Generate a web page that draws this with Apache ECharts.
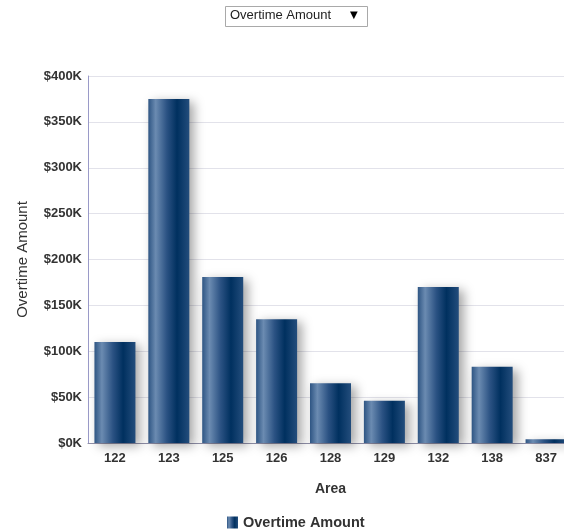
<!DOCTYPE html>
<html>
<head>
<meta charset="utf-8">
<style>
  html, body { margin: 0; padding: 0; background: #ffffff; overflow: hidden; }
  #chart { width: 580px; height: 531px; }
</style>
<script src="https://cdn.jsdelivr.net/npm/echarts@6/dist/echarts.min.js"></script>
</head>
<body>
<div id="chart"></div>
<script>
// Overtime amount per area
var areas = ['122', '123', '125', '126', '128', '129', '132', '138', '837'];
var overtimeAmount = [110000, 375000, 181000, 135000, 65000, 46000, 170000, 83000, 4000];
var yTicks = { min: 0, max: 400000, interval: 50000 };
var seriesName = 'Overtime Amount';

var barFill = new echarts.graphic.LinearGradient(0, 0, 1, 0, [
  { offset: 0, color: '#2e5583' },
  { offset: 0.18, color: '#6b8bb1' },
  { offset: 0.45, color: '#2b5283' },
  { offset: 0.7, color: '#00305f' },
  { offset: 1, color: '#234d7c' }
]);

var fontFamily = 'Arial, "Liberation Sans", sans-serif';

var chart = echarts.init(document.getElementById('chart'));
chart.setOption({
  animation: false,
  textStyle: { fontFamily: fontFamily },
  grid: { left: 88, top: 76, width: 485, height: 367, containLabel: false },
  graphic: [
    {
      type: 'rect', left: 225, top: 6,
      shape: { width: 142, height: 20 },
      style: { fill: '#ffffff', stroke: '#a9a9a9', lineWidth: 1 }
    },
    {
      type: 'text', left: 230, top: 9,
      style: { text: 'Overtime Amount', fill: '#222', font: '13px ' + fontFamily }
    },
    {
      type: 'text', left: 350, top: 10,
      style: { text: '▼', fill: '#000', font: '10px "DejaVu Sans", sans-serif' }
    }
  ],
  legend: {
    top: 510, left: 222,
    itemWidth: 11, itemHeight: 12, itemGap: 5,
    icon: 'rect',
    textStyle: { fontSize: 14.5, fontWeight: 'bold', color: '#333', fontFamily: fontFamily },
    data: [{ name: seriesName, itemStyle: { color: barFill } }]
  },
  xAxis: {
    type: 'category',
    data: areas,
    name: 'Area',
    nameLocation: 'middle',
    nameGap: 39,
    nameTextStyle: { fontSize: 14, fontWeight: 'bold', color: '#333' },
    axisLine: { lineStyle: { color: '#8f8fa8' } },
    axisTick: { show: false },
    axisLabel: { fontSize: 13, fontWeight: 'bold', color: '#333', margin: 9 }
  },
  yAxis: {
    type: 'value',
    min: yTicks.min, max: yTicks.max, interval: yTicks.interval,
    name: 'Overtime Amount',
    nameLocation: 'middle',
    nameGap: 58,
    nameTextStyle: { fontSize: 15, color: '#333' },
    axisLine: { show: true, lineStyle: { color: '#9a9ac8' } },
    axisTick: { show: false },
    splitLine: { lineStyle: { color: '#e2e2ea' } },
    axisLabel: {
      fontSize: 13, fontWeight: 'bold', color: '#333', margin: 6,
      formatter: function (v) { return '$' + (v / 1000) + 'K'; }
    }
  },
  series: [{
    name: seriesName,
    type: 'bar',
    data: overtimeAmount,
    barWidth: 41,
    itemStyle: {
      color: barFill,
      shadowColor: 'rgba(0,0,0,0.35)',
      shadowBlur: 10,
      shadowOffsetX: 5,
      shadowOffsetY: 3
    }
  }]
});
</script>
</body>
</html>
